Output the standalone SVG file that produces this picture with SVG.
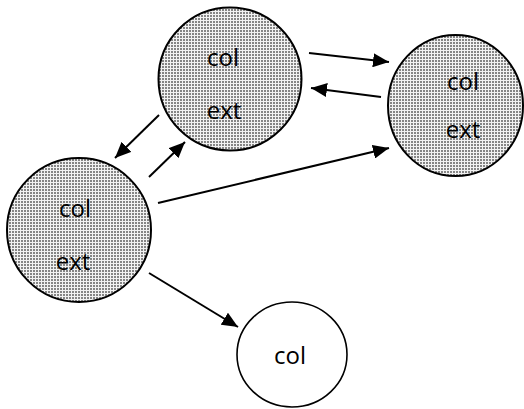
<svg xmlns="http://www.w3.org/2000/svg" width="524" height="409" viewBox="0 0 524 409">
<defs>
<pattern id="dots" x="0" y="0" width="3" height="3" patternUnits="userSpaceOnUse">
<rect width="3" height="3" fill="#f2f2f2"/>
<rect x="0" y="0" width="2" height="2" fill="#858585"/>
</pattern>
<marker id="ah" viewBox="0 0 16 14" markerWidth="16" markerHeight="14" refX="16" refY="7" orient="auto" markerUnits="userSpaceOnUse">
<path d="M0,0 L16,7 L0,14 z" fill="#000"/>
</marker>
</defs>
<style>
.shaded{fill:url(#dots);stroke:#000;stroke-width:2}
.plain{fill:#fff;stroke:#000;stroke-width:1.6}
.lbl{font-family:"Open Sans","DejaVu Sans",sans-serif;font-size:24px;fill:#000;text-anchor:middle}
.conn line{stroke:#000;stroke-width:2;marker-end:url(#ah)}
</style>
<g id="node-top">
<circle class="shaded" cx="230" cy="79" r="71.5"/>
<text class="lbl" x="223" y="66">col</text>
<text class="lbl" x="224" y="119">ext</text>
</g>
<g id="node-right">
<ellipse class="shaded" cx="455.5" cy="105.5" rx="67.5" ry="70.5"/>
<text class="lbl" x="463" y="90">col</text>
<text class="lbl" x="463" y="138">ext</text>
</g>
<g id="node-left">
<circle class="shaded" cx="79" cy="230" r="72"/>
<text class="lbl" x="75" y="217">col</text>
<text class="lbl" x="73" y="270">ext</text>
</g>
<g id="node-bottom">
<ellipse class="plain" cx="292" cy="354.5" rx="55" ry="52.5"/>
<text class="lbl" x="290" y="364">col</text>
</g>
<g id="connectors" class="conn">
<line x1="309" y1="53" x2="389" y2="62"/>
<line x1="381" y1="97" x2="311" y2="88"/>
<line x1="159" y1="115" x2="115" y2="158"/>
<line x1="149" y1="177" x2="185" y2="142"/>
<line x1="158" y1="203" x2="389" y2="148"/>
<line x1="149" y1="273" x2="238" y2="327"/>
</g>
</svg>
